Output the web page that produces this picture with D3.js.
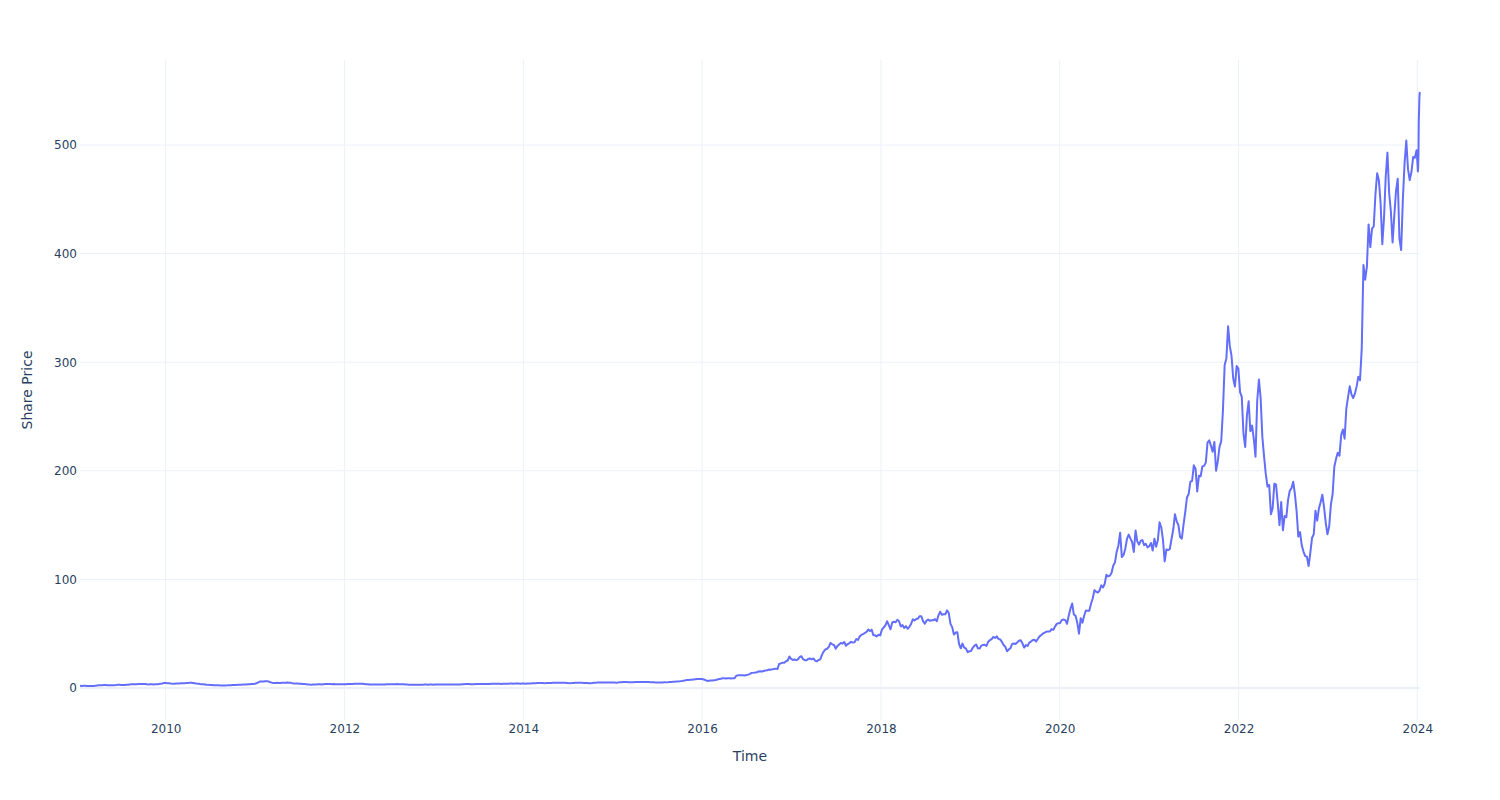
<!DOCTYPE html>
<html>
<head>
<meta charset="utf-8">
<script src="https://cdn.jsdelivr.net/npm/d3@7"></script>
<style>
  html, body { margin: 0; padding: 0; background: #fff; }
  svg { display: block; }
</style>
</head>
<body>
<svg id="chart" width="1500" height="800"></svg>
<script>
// ---- Data: weekly closing share price ----
const periodStart = ["2009-01-16","2010-01-01","2011-01-07","2012-01-06","2013-01-04","2014-01-03","2015-01-02","2016-01-01","2017-01-06","2018-01-05","2019-01-04","2020-01-03","2021-01-01","2022-01-07","2023-01-06","2024-01-02"];
const periodEnd   = ["2009-12-25","2010-12-31","2011-12-30","2012-12-28","2013-12-27","2014-12-26","2015-12-25","2016-12-30","2017-12-29","2018-12-28","2019-12-27","2020-12-25","2021-12-31","2022-12-30","2023-12-29","2024-01-12"];

const price2009 = [2.0,1.9,1.95,2.0,1.9,1.85,1.8,1.75,1.9,2.1,2.3,2.45,2.5,2.6,2.75,2.7,2.55,2.5,2.6,2.45,2.6,2.7,2.85,2.9,2.8,2.7,2.75,2.95,3.05,3.2,3.35,3.45,3.5,3.5,3.6,3.7,3.75,3.7,3.6,3.35,3.3,3.4,3.45,3.3,3.4,3.5,3.7,3.95,4.2,4.5];
const price2010 = [4.5,4.45,4.3,4.1,3.95,3.9,4.0,4.05,4.2,4.35,4.4,4.45,4.5,4.6,4.7,4.75,4.6,4.3,4.0,3.8,3.6,3.5,3.4,3.2,3.0,2.85,2.75,2.7,2.6,2.5,2.45,2.4,2.3,2.25,2.3,2.35,2.4,2.5,2.6,2.65,2.7,2.8,2.95,3.0,3.05,3.1,3.2,3.3,3.35,3.4,3.6,3.75,3.85];
const price2011 = [4.3,5.2,5.9,6.0,5.9,6.1,6.3,6.0,5.3,4.9,4.6,4.6,4.7,4.5,4.5,4.7,4.8,4.9,5.0,4.9,4.7,4.4,4.2,4.0,4.0,3.9,3.8,3.7,3.6,3.5,3.3,3.1,3.0,3.1,3.2,3.3,3.35,3.4,3.3,3.5,3.6,3.7,3.7,3.6,3.5,3.55,3.5,3.4,3.45,3.5,3.45,3.5];
const price2012 = [3.5,3.6,3.7,3.7,3.75,3.8,3.8,3.85,3.9,3.9,3.8,3.7,3.5,3.4,3.3,3.3,3.2,3.15,3.1,3.1,3.2,3.25,3.3,3.3,3.35,3.4,3.4,3.45,3.5,3.5,3.55,3.5,3.45,3.4,3.4,3.3,3.2,3.05,3.0,3.0,2.95,2.9,2.95,3.0,3.0,3.05,3.1,3.1,3.05,3.1,3.1,3.05];
const price2013 = [3.1,3.15,3.2,3.15,3.1,3.1,3.1,3.15,3.2,3.2,3.2,3.15,3.2,3.25,3.3,3.3,3.4,3.5,3.6,3.6,3.55,3.5,3.45,3.5,3.55,3.6,3.65,3.6,3.6,3.65,3.7,3.7,3.75,3.8,3.85,3.9,3.9,3.85,3.8,3.75,3.8,3.85,3.9,3.95,4.0,4.0,3.95,4.0,4.0,4.0,3.95,4.0];
const price2014 = [4.0,3.95,4.0,4.05,4.15,4.3,4.4,4.45,4.5,4.5,4.55,4.5,4.45,4.5,4.6,4.6,4.65,4.7,4.75,4.75,4.7,4.7,4.75,4.8,4.7,4.6,4.5,4.45,4.5,4.6,4.7,4.75,4.8,4.75,4.7,4.6,4.6,4.55,4.45,4.4,4.5,4.7,4.85,4.95,5.0,5.0,5.05,5.0,5.0,4.95,5.0,5.0];
const price2015 = [5.0,4.95,4.9,5.0,5.2,5.3,5.45,5.5,5.45,5.3,5.25,5.2,5.3,5.4,5.5,5.5,5.5,5.45,5.5,5.5,5.55,5.45,5.3,5.2,5.2,5.1,5.0,5.0,5.05,5.1,5.2,5.15,5.3,5.5,5.6,5.7,5.8,5.9,6.0,6.1,6.3,6.6,6.9,7.3,7.4,7.5,7.6,7.8,8.0,8.2,8.2,8.3];
const price2016 = [8.2,7.8,7.3,6.5,6.7,6.9,6.8,7.1,7.4,7.8,8.2,8.5,8.9,8.9,8.7,8.9,9.0,8.8,8.9,8.9,11.2,11.6,11.7,11.7,11.8,11.5,11.9,12.3,13.0,13.9,14.0,14.2,14.5,15.2,15.4,15.2,15.6,16.0,16.3,16.9,16.7,17.1,17.5,17.8,17.4,22.1,22.7,23.3,23.3,24.6,25.3,29.0,26.8];
const price2017 = [25.8,26.2,25.6,26.4,28.5,29.2,26.5,25.5,25.5,26.8,27.2,26.4,27.2,25.2,24.5,25.7,26.3,30.5,33.5,35.5,36.1,37.8,41.5,40.2,39.6,36.2,38.5,40.1,41.5,41.0,42.3,38.9,40.4,41.3,42.5,41.8,42.0,45.0,44.2,47.5,48.8,49.6,50.6,51.6,53.8,52.4,53.7,48.6,48.5,47.5,49.0,48.4];
const price2018 = [53.8,55.7,57.5,61.5,57.8,54.0,60.3,61.0,60.5,62.8,61.4,56.6,57.9,55.3,56.9,54.5,56.3,58.9,63.2,62.2,63.5,63.9,66.1,66.0,61.6,59.2,62.0,63.0,61.8,62.3,62.3,63.4,61.5,66.9,70.2,67.4,67.8,67.9,71.5,69.0,59.0,56.0,49.2,51.0,51.3,40.5,36.5,40.9,37.1,36.4,33.0,33.8];
const price2019 = [34.0,37.0,39.0,40.0,36.5,36.3,39.0,39.5,39.8,38.8,42.5,44.0,44.9,47.0,46.1,47.5,45.2,44.7,42.5,39.6,38.0,33.8,35.4,36.7,40.5,41.0,40.5,42.0,43.5,44.0,41.0,37.2,39.5,38.7,41.8,42.7,44.2,44.4,42.7,45.3,47.5,48.8,50.2,51.0,51.8,52.1,52.0,54.2,53.6,56.5,59.0,59.7];
const price2020 = [59.9,62.7,63.0,62.5,59.1,66.5,73.0,77.8,67.6,66.4,60.0,50.0,64.3,60.1,66.5,71.4,71.0,71.1,77.5,82.4,90.1,88.7,87.9,89.6,94.6,92.5,96.0,104.3,102.7,103.4,106.1,112.7,115.6,125.5,131.2,143.0,120.5,122.5,128.2,137.2,141.2,137.7,134.4,125.3,145.0,135.0,132.0,135.5,136.3,131.5,132.7,129.5];
const price2021 = [130.5,133.5,126.5,137.5,130.0,136.0,152.5,148.0,136.6,116.5,127.5,127.0,128.0,137.2,145.9,160.0,153.4,150.1,139.0,137.5,150.5,162.0,175.4,178.6,190.0,190.6,205.0,202.0,181.0,195.5,195.0,204.0,204.5,207.5,226.0,228.0,223.0,217.5,226.5,200.0,208.8,222.0,227.3,255.7,297.5,303.5,333.0,315.0,306.0,285.0,277.5,296.4,294.1];
const price2022 = [272.5,268.0,233.7,222.0,251.0,264.0,236.4,241.6,229.4,213.0,264.5,284.0,267.1,231.2,213.3,197.1,185.5,187.0,160.0,165.5,188.1,187.2,169.8,150.0,171.3,145.2,158.4,157.2,173.2,181.6,184.0,190.0,178.5,162.5,139.4,143.5,131.3,125.6,121.4,120.8,112.3,124.7,138.3,141.6,163.3,154.1,165.2,171.0,178.0,166.6,152.1,141.5];
const price2023 = [148.6,168.9,178.4,203.7,211.0,216.6,213.9,232.9,238.0,229.6,257.3,267.8,277.8,270.4,267.0,271.0,277.5,286.7,283.4,312.6,389.5,376.0,387.7,426.9,406.0,423.0,425.0,454.7,474.0,467.5,446.8,408.6,432.9,471.0,493.0,455.7,439.0,410.2,435.0,457.6,469.0,413.9,403.3,450.1,483.4,504.1,477.8,467.7,475.1,488.9,488.3,495.2];
const price2024 = [481.7,475.7,479.9,490.9,522.5,531.4,543.5,548.2,547.1];

const yearSeries = [price2009,price2010,price2011,price2012,price2013,price2014,price2015,price2016,price2017,price2018,price2019,price2020,price2021,price2022,price2023,price2024];

const yTickValues = [0, 100, 200, 300, 400, 500];
const xTickLabels = ["2010","2012","2014","2016","2018","2020","2022","2024"];

// ---- Build the date/value table ----
const parse = d3.utcParse("%Y-%m-%d");
const data = [];
yearSeries.forEach((arr, k) => {
  const t0 = parse(periodStart[k]).getTime(), t1 = parse(periodEnd[k]).getTime();
  const n = arr.length;
  arr.forEach((v, i) => {
    const t = n > 1 ? t0 + (t1 - t0) * i / (n - 1) : t0;
    data.push({date: new Date(t), value: v});
  });
});

// ---- Layout ----
const W = 1500, H = 800;
const m = {left: 80, right: 80, top: 60, bottom: 80};
const svg = d3.select("#chart");
const font = "'DejaVu Sans', Verdana, sans-serif";
const textColor = "#2a3f5f";
const gridColor = "#ebf0f8";

const x = d3.scaleUtc()
  .domain(d3.extent(data, d => d.date))
  .range([m.left, W - m.right]);
const y = d3.scaleLinear()
  .domain([-29.5, 578.3])
  .range([H - m.bottom, m.top]);

const xTicks = xTickLabels.map(s => d3.utcParse("%Y")(s));

// grid
const grid = svg.append("g");
grid.selectAll("line.vx").data(xTicks).join("line")
  .attr("x1", d => x(d)).attr("x2", d => x(d))
  .attr("y1", m.top).attr("y2", H - m.bottom)
  .attr("stroke", gridColor).attr("stroke-width", 1);
grid.selectAll("line.hy").data(yTickValues.filter(v => v !== 0)).join("line")
  .attr("x1", m.left).attr("x2", W - m.right)
  .attr("y1", d => y(d)).attr("y2", d => y(d))
  .attr("stroke", gridColor).attr("stroke-width", 1);
// zero line
grid.append("line")
  .attr("x1", m.left).attr("x2", W - m.right)
  .attr("y1", y(0)).attr("y2", y(0))
  .attr("stroke", gridColor).attr("stroke-width", 2);

// axes (labels only)
const xAxis = svg.append("g")
  .attr("transform", `translate(0,${H - m.bottom})`)
  .call(d3.axisBottom(x).tickValues(xTicks).tickFormat(d3.utcFormat("%Y")).tickSize(0).tickPadding(4.5));
const yAxis = svg.append("g")
  .attr("transform", `translate(${m.left},0)`)
  .call(d3.axisLeft(y).tickValues(yTickValues).tickFormat(d3.format("d")).tickSize(0).tickPadding(3));
[xAxis, yAxis].forEach(g => {
  g.select(".domain").remove();
  g.selectAll("text").attr("font-family", font).attr("font-size", 12).attr("fill", textColor);
});

// line
svg.append("path")
  .datum(data)
  .attr("fill", "none")
  .attr("stroke", "#636efa")
  .attr("stroke-width", 2)
  .attr("stroke-linejoin", "round")
  .attr("d", d3.line().x(d => x(d.date)).y(d => y(d.value)));

// axis titles
svg.append("text")
  .attr("x", (m.left + W - m.right) / 2).attr("y", 756)
  .attr("text-anchor", "middle").attr("dominant-baseline", "central")
  .attr("font-family", font).attr("font-size", 14).attr("fill", textColor)
  .text("Time");
svg.append("text")
  .attr("transform", `translate(27,${(m.top + H - m.bottom) / 2}) rotate(-90)`)
  .attr("text-anchor", "middle").attr("dominant-baseline", "central")
  .attr("font-family", font).attr("font-size", 14).attr("fill", textColor)
  .text("Share Price");
</script>
</body>
</html>
